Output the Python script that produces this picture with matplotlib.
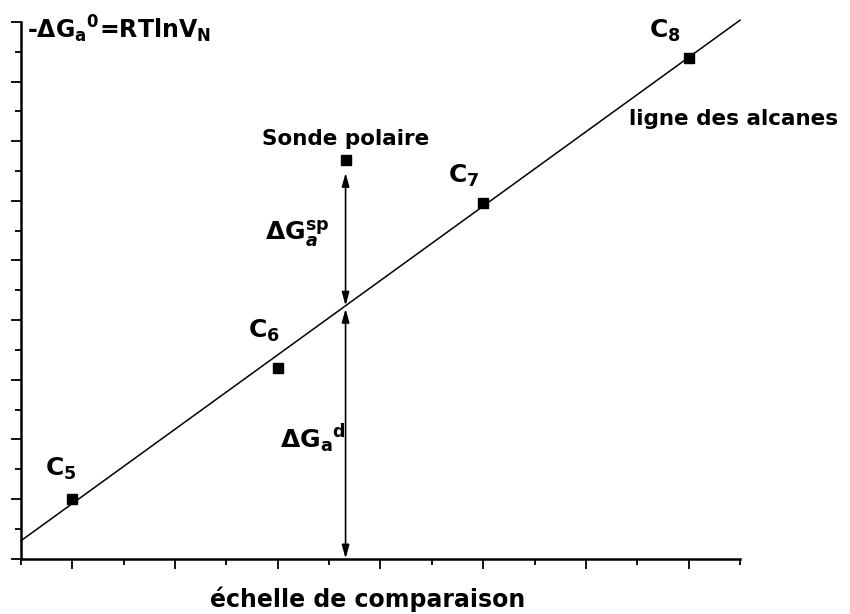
import matplotlib
matplotlib.use("Agg")
import matplotlib.pyplot as plt
from matplotlib.ticker import MultipleLocator, NullFormatter
import numpy as np

# ---- data ----
alkane_x = [1, 3, 5, 7]
alkane_y = [1.0, 3.2, 5.97, 8.39]
alkane_names = ["5", "6", "7", "8"]
probe_x = [3.66]
probe_y = [6.69]
line_x = [0.5, 7.5]
line_y = [0.30, 9.03]

plt.rcParams["font.family"] = ["DejaVu Sans"]
plt.rcParams["mathtext.fontset"] = "custom"
plt.rcParams["mathtext.rm"] = "DejaVu Sans:bold"
plt.rcParams["mathtext.bf"] = "DejaVu Sans:bold"
plt.rcParams["mathtext.it"] = "DejaVu Sans:italic:bold"
plt.rcParams["mathtext.default"] = "bf"

W, H = 850, 614
fig = plt.figure(figsize=(W / 100, H / 100), dpi=100)
L, R, T, B = 21, 740, 22, 558.6
ax = fig.add_axes([L / W, 1 - B / H, (R - L) / W, (B - T) / H])
ax.set_xlim(0.5, 7.5)
ax.set_ylim(0, 9)

for s in ["top", "right"]:
    ax.spines[s].set_visible(False)
for s in ["left", "bottom"]:
    ax.spines[s].set_linewidth(1.8)

ax.xaxis.set_major_locator(MultipleLocator(1))
ax.xaxis.set_minor_locator(MultipleLocator(0.5))
ax.yaxis.set_major_locator(MultipleLocator(1))
ax.yaxis.set_minor_locator(MultipleLocator(0.5))
ax.xaxis.set_major_formatter(NullFormatter())
ax.yaxis.set_major_formatter(NullFormatter())
ax.tick_params(which="major", direction="out", length=7, width=1.3, top=False, right=False)
ax.tick_params(which="minor", direction="out", length=4, width=1.3, top=False, right=False)

# alkane line
ax.plot(line_x, line_y, color="black", lw=1.1, clip_on=False, zorder=2)
# points
ax.plot(alkane_x, alkane_y, "s", color="black", ms=7, zorder=3)
ax.plot(probe_x, probe_y, "s", color="black", ms=7, zorder=3)

# C labels
label_pos = [(0.737, 1.386), (2.71, 3.70), (4.66, 6.30), (6.61, 8.73)]
for (lx, ly), n in zip(label_pos, alkane_names):
    ax.text(lx, ly, r"$C_{%s}$" % n, fontsize=18, ha="left", va="baseline")

# arrows at probe position
px = probe_x[0]
y_on_line = np.interp(px, line_x, line_y)
arrow_style = "<|-|>,head_length=0.8,head_width=0.22"
ax.annotate("", xy=(px, probe_y[0] - 0.22), xytext=(px, y_on_line),
            arrowprops=dict(arrowstyle=arrow_style, color="black", lw=1.2,
                            shrinkA=0, shrinkB=0))
ax.annotate("", xy=(px, y_on_line - 0.05), xytext=(px, 0.0),
            arrowprops=dict(arrowstyle=arrow_style, color="black", lw=1.2,
                            shrinkA=0, shrinkB=0), annotation_clip=False)

# texts
ax.text(px, 6.94, "Sonde polaire", fontsize=15.5, fontweight="bold",
        ha="center", va="baseline")
ax.text(6.42, 7.27, "ligne des alcanes", fontsize=15.5, fontweight="bold",
        ha="left", va="baseline")
ax.text(2.877, 5.34, r"$ΔG_{\mathit{a}}^{sp}$", fontsize=18, ha="left", va="baseline")
ax.text(3.02, 1.86, r"$ΔG_{a}{}^{d}$", fontsize=18, ha="left", va="baseline")
ax.text(0.56, 8.72, r"-$ΔG_{a}{}^{0}$=RTln$V_{N}$", fontsize=17, fontweight="bold",
        ha="left", va="baseline")
ax.text(3.87, -0.81, "échelle de comparaison", fontsize=17, fontweight="bold",
        ha="center", va="baseline")

fig.savefig("out.png", dpi=100)
